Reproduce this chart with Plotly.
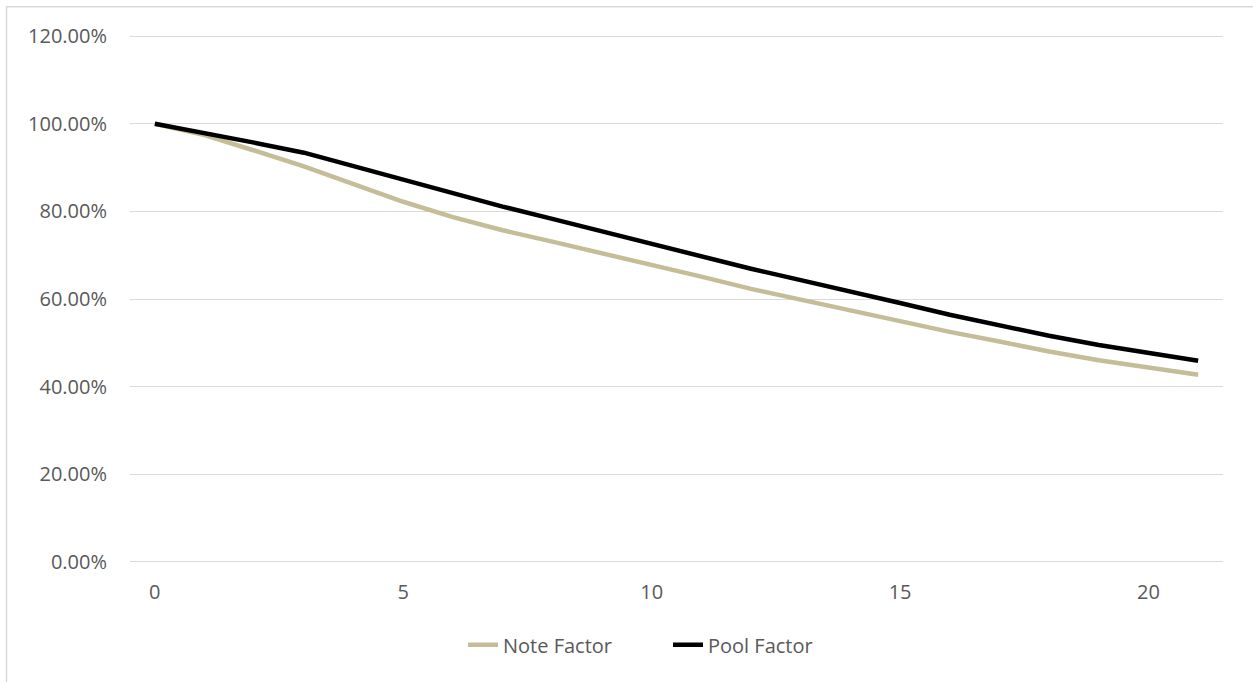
import plotly.graph_objects as go

periods = list(range(22))
note_factor = [100.0, 97.4, 93.9, 90.3, 86.2, 82.2, 78.7, 75.7, 73.1, 70.5, 67.9,
               65.1, 62.3, 59.8, 57.4, 54.9, 52.5, 50.3, 48.0, 46.0, 44.3, 42.7]
pool_factor = [100.0, 97.9, 95.7, 93.4, 90.3, 87.2, 84.1, 81.1, 78.3, 75.4, 72.6,
               69.8, 66.9, 64.3, 61.8, 59.1, 56.4, 53.9, 51.6, 49.5, 47.6, 45.9]
y_ticks = [0, 20, 40, 60, 80, 100, 120]
y_tick_labels = ["0.00%", "20.00%", "40.00%", "60.00%", "80.00%", "100.00%", "120.00%"]
x_ticks = [0, 5, 10, 15, 20]

FONT = "Open Sans"
GRAY = "#595959"
FS = 20

fig = go.Figure()
fig.add_trace(go.Scatter(x=periods, y=note_factor, mode="lines", name="Note Factor",
                         line=dict(color="#C4BD97", width=4.5)))
fig.add_trace(go.Scatter(x=periods, y=pool_factor, mode="lines", name="Pool Factor",
                         line=dict(color="#000000", width=4.5)))

W, H = 1253, 682
# target: gridline 120% at y=36, 0% at y=562; plot x from 130 to 1223
pad = 0.5
ph = 526 * (120 + 2 * pad) / 120
d = (ph - 526) / 2
L, R = 130, W - 1223
T, B = 36 - d, (H - 562) - d
pw = W - L - R

fig.update_layout(
    width=W, height=H,
    margin=dict(l=L, r=R, t=T, b=B),
    paper_bgcolor="white", plot_bgcolor="white",
    font=dict(family=FONT, size=FS, color=GRAY),
    showlegend=True,
    legend=dict(orientation="h", x=(668 - L) / pw, xanchor="center",
                y=(562 + d - 645) / ph, yanchor="middle",
                font=dict(family=FONT, size=FS, color=GRAY),
                entrywidth=160, entrywidthmode="pixels",
                bgcolor="rgba(0,0,0,0)"),
    xaxis=dict(range=[-0.5, 21.5], tickvals=x_ticks, showgrid=False, zeroline=False,
               showline=False, ticks="", ticklen=0, tickfont=dict(size=FS, color=GRAY)),
    yaxis=dict(range=[-pad, 120 + pad], tickvals=y_ticks, ticktext=y_tick_labels,
               showgrid=True, gridcolor="#D9D9D9", gridwidth=1.2, zeroline=False,
               showline=False, ticks="", ticklen=0, tickfont=dict(size=FS, color=GRAY)),
    shapes=[dict(type="rect", xref="paper", yref="paper",
                 x0=(6.5 - L) / pw, x1=(W + 20 - L) / pw,
                 y0=-(H + 20 - (562 + d)) / ph, y1=(562 + d - 6.5) / ph,
                 line=dict(color="#D9D9D9", width=1.5), fillcolor="rgba(0,0,0,0)",
                 layer="below")],
)
fig.update_yaxes(ticklabelstandoff=22)
fig.update_xaxes(ticklabelstandoff=14)

fig.write_html("out.html", config={"displayModeBar": False},
               post_script="document.body.style.margin='0';document.body.style.padding='0';")
